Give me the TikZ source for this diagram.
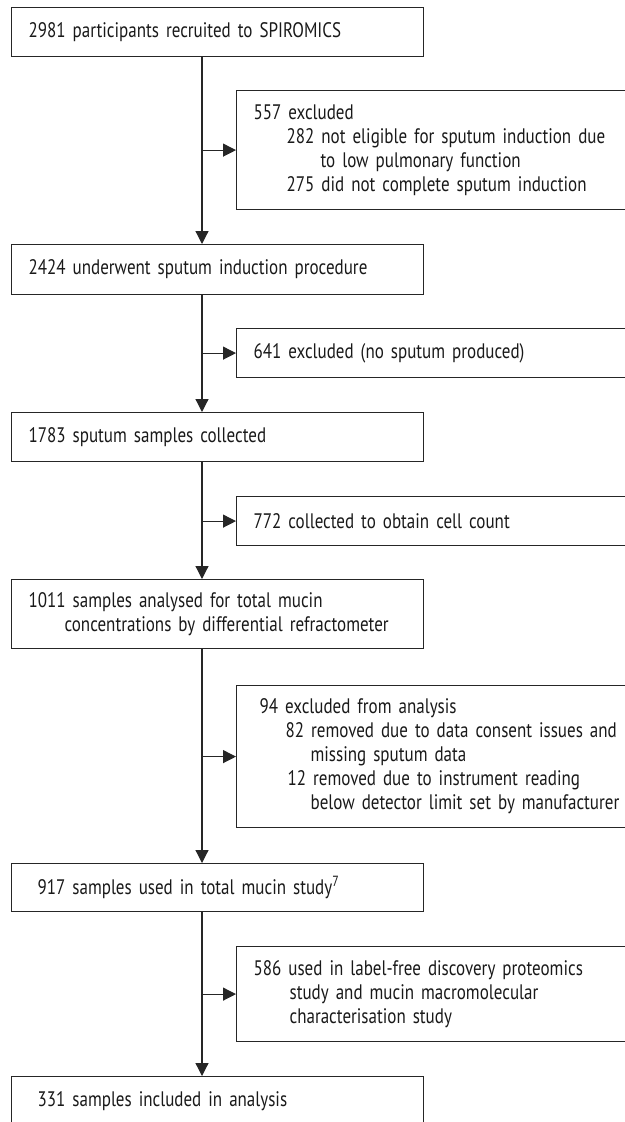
\documentclass[tikz,border=0pt]{standalone}
\usepackage{fontspec}
\setmainfont[FakeStretch=0.81]{PT Sans}
\usetikzlibrary{arrows.meta}

\tikzset{
  box/.style={draw=black!85, line width=1.2pt, anchor=north west, align=left,
    inner xsep=17pt, inner ysep=0pt, text=black!90,
    font=\fontsize{21}{24}\selectfont},
  mainbox/.style={box, text width=378pt},
  sidebox/.style={box, text width=396pt},
  flow/.style={draw=black!85, line width=1.2pt, -{Triangle[length=13pt,width=13pt]}}
}

\begin{document}
\begin{tikzpicture}[x=1pt, y=-1pt]
	\useasboundingbox (0,0) rectangle (624,1122);
	\coordinate (t) at (202,0);
	
	% main column
	\node[mainbox, minimum height=49pt] (0) at (11,7)
		{2981 participants recruited to SPIROMICS};
	\node[mainbox, minimum height=50pt] (1) at (11,244)
		{2424 underwent sputum induction procedure};
	\node[mainbox, minimum height=49pt] (2) at (11,412)
		{1783 sputum samples collected};
	\node[mainbox, minimum height=69pt] (3) at (11,579)
		{1011 samples analysed for total mucin\\
		\hspace*{36pt}concentrations by differential refractometer};
	\node[mainbox, minimum height=48pt] (4) at (11,863)
		{\hspace*{9pt}917 samples used in total mucin study\textsuperscript{7}};
	\node[mainbox, minimum height=49pt] (5) at (11,1076)
		{\hspace*{9pt}331 samples included in analysis};
	
	% exclusions
	\node[sidebox, minimum height=119pt] (6) at (236,90)
		{557 excluded\\
		\hspace*{33pt}282 not eligible for sputum induction due\\
		\hspace*{67pt}to low pulmonary function\\
		\hspace*{33pt}275 did not complete sputum induction};
	\node[sidebox, minimum height=49pt] (7) at (236,328)
		{641 excluded (no sputum produced)};
	\node[sidebox, minimum height=49pt] (8) at (236,496)
		{772 collected to obtain cell count};
	\node[sidebox, minimum height=142pt] (9) at (236,685)
		{\hspace*{6pt}94 excluded from analysis\\
		\hspace*{32pt}82 removed due to data consent issues and\\
		\hspace*{57pt}missing sputum data\\
		\hspace*{34pt}12 removed due to instrument reading\\
		\hspace*{57pt}below detector limit set by manufacturer};
	\node[sidebox, minimum height=95pt] (10) at (236,946)
		{586 used in label-free discovery proteomics\\
		\hspace*{36pt}study and mucin macromolecular\\
		\hspace*{36pt}characterisation study};
	
	\draw[flow] (0.south -| t) -- (1.north -| t);
	\draw[flow] (1.south -| t) -- (2.north -| t);
	\draw[flow] (2.south -| t) -- (3.north -| t);
	\draw[flow] (3.south -| t) -- (4.north -| t);
	\draw[flow] (4.south -| t) -- (5.north -| t);
	
	\draw[flow] (6.west -| t) -- (6.west);
	\draw[flow] (7.west -| t) -- (7.west);
	\draw[flow] (8.west -| t) -- (8.west);
	\draw[flow] (9.west -| t) -- (9.west);
	\draw[flow] (10.west -| t) -- (10.west);
\end{tikzpicture}
\end{document}
